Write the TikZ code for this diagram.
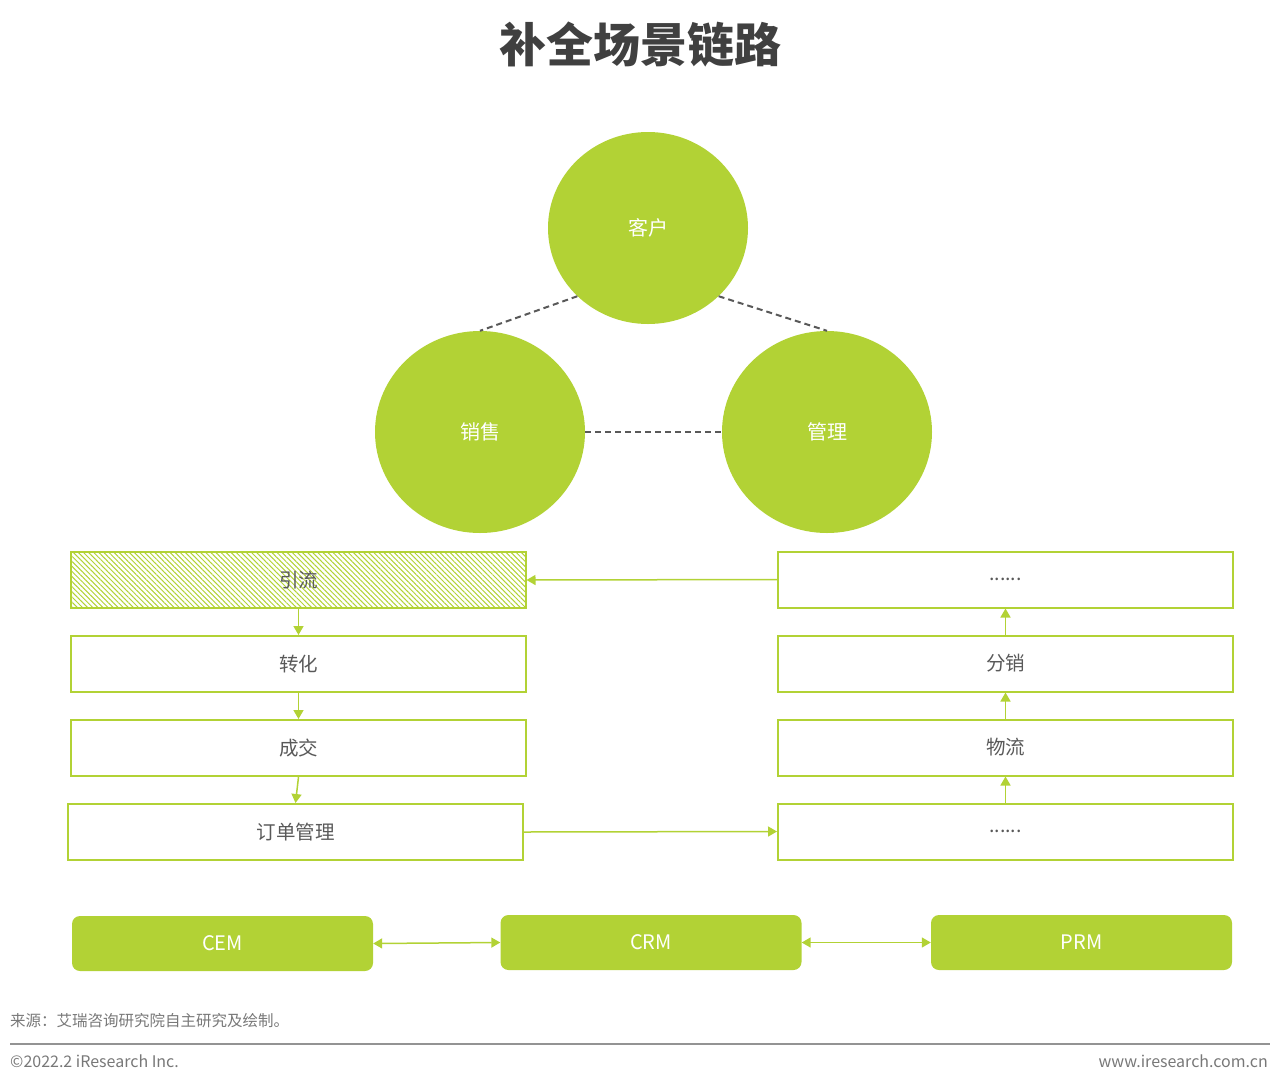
\documentclass[tikz,border=0pt]{standalone}
\usepackage{fontspec}
\setmainfont{Noto Sans CJK SC}
\usetikzlibrary{shapes.geometric,arrows.meta,patterns.meta}
\definecolor{gr}{RGB}{178,210,53}
\definecolor{txt}{RGB}{89,89,89}
\definecolor{ttl}{RGB}{64,64,64}
\definecolor{ft}{RGB}{120,120,120}
\tikzset{
  circ/.style={ellipse, fill=gr, text=white, font=\fontsize{20}{24}\selectfont, inner sep=0pt},
  box/.style={rectangle, draw=gr, line width=2pt, minimum width=455pt, minimum height=56pt, text=txt, font=\fontsize{19.5}{24}\selectfont, inner sep=0pt},
  btn/.style={rectangle, fill=gr, rounded corners=8pt, minimum width=301pt, minimum height=55pt, text=white, font=\fontsize{20}{24}\selectfont, inner sep=0pt},
  dsh/.style={draw=txt, line width=2pt, dash pattern=on 6pt off 4pt},
  arr/.style={draw=gr, line width=1.5pt, -{Triangle[length=9pt,width=10pt]}},
  darr/.style={draw=gr, line width=1.5pt, {Triangle[length=9pt,width=10pt]}-{Triangle[length=9pt,width=10pt]}},
  foot/.style={text=ft, inner sep=0pt}
}
\begin{document}
\begin{tikzpicture}[x=1pt,y=-1pt]
\useasboundingbox (0,0) rectangle (1280,1085);
\node[text=ttl, font=\fontsize{47}{52}\selectfont\bfseries, inner sep=0pt] (title) at (640,45) {补全场景链路};
% circles
\node[circ, minimum width=200pt, minimum height=192pt] (kh) at (648,228) {客户};
\node[circ, minimum width=210pt, minimum height=202pt] (xs) at (480,432) {销售};
\node[circ, minimum width=210pt, minimum height=202pt] (gl) at (827,432) {管理};
\draw[dsh] (kh.224) -- (xs.north);
\draw[dsh] (kh.316) -- (gl.north);
\draw[dsh] (xs.east) -- (gl.west);
% left column
\node[box, pattern={Lines[angle=-45,distance=3.6pt,line width=1pt]}, pattern color=gr] (yl) at (298.5,580) {};
\node[text=txt, font=\fontsize{19.5}{24}\selectfont, inner sep=0pt] (yltext) at (yl.center) {引流};
\node[box] (zh) at (298.5,664) {转化};
\node[box] (cj) at (298.5,748) {成交};
\node[box] (dd) at (295.5,832) {订单管理};
% right column
\node[box] (r1) at (1005.5,579.5) {......};
\node[box] (r2) at (1005.5,663.5) {分销};
\node[box] (r3) at (1005.5,747.5) {物流};
\node[box] (r4) at (1005.5,831.5) {......};
% arrows
\draw[arr] (yl.south) -- (zh.north);
\draw[arr] (zh.south) -- (cj.north);
\draw[arr] (cj.south) -- (dd.north);
\draw[arr] (r4.north) -- (r3.south);
\draw[arr] (r3.north) -- (r2.south);
\draw[arr] (r2.north) -- (r1.south);
\draw[arr] (r1.west) -- (yl.east);
\draw[arr] (dd.east) -- (r4.west);
% buttons
\node[btn] (cem) at (222.5,943.5) {CEM};
\node[btn] (crm) at (651,942.5) {CRM};
\node[btn] (prm) at (1081.5,942.5) {PRM};
\draw[darr] (cem.east) -- (crm.west);
\draw[darr] (crm.east) -- (prm.west);
% footer
\node[foot, anchor=west, font=\fontsize{15.5}{18}\selectfont] (src) at (10,1021) {来源：艾瑞咨询研究院自主研究及绘制。};
\coordinate (la) at (10,1044);
\coordinate (lb) at (1270,1044);
\draw[draw=ft!80, line width=1.2pt] (la) -- (lb);
\node[foot, anchor=west, font=\fontsize{16}{18}\selectfont] (cp) at (10,1061) {©2022.2 iResearch Inc.};
\node[foot, anchor=east, font=\fontsize{16}{18}\selectfont] (web) at (1268,1061) {www.iresearch.com.cn};
\end{tikzpicture}
\end{document}
